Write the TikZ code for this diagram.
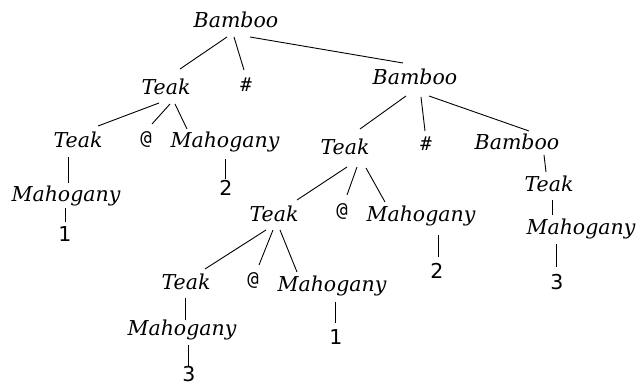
\documentclass[tikz,border=0pt]{standalone}
\usepackage{fontspec}
\newfontfamily\dvsans{DejaVu Sans}
\newfontfamily\dvmono{DejaVu Sans Mono}
\newfontfamily\dvserif{DejaVu Serif}
\begin{document}
\begin{tikzpicture}[x=1pt,y=-1pt,
  word/.style={font=\dvserif\fontsize{20.5}{25}\selectfont\itshape, inner sep=0pt, anchor=base},
  numb/.style={font=\dvsans\fontsize{20.5}{24}\selectfont, inner sep=0pt, anchor=base},
  symb/.style={font=\dvmono\fontsize{19}{23}\selectfont, inner sep=0pt, anchor=base},
  conn/.style={line width=0.9pt, black}]
\useasboundingbox (0,0) rectangle (638,385);
% nodes (x = centre, y = baseline)
\node[word] (R)  at (236,28)  {Bamboo};
\node[word] (T1) at (166,95)  {Teak};
\node[symb] (H1) at (246,92)  {\#};
\node[word] (B2) at (415,85)  {Bamboo};
\node[word] (T2) at (78,148)  {Teak};
\node[symb] (A1) at (146,145) {@};
\node[word] (M1) at (225,148) {Mahogany};
\node[word] (M2) at (66,202)  {Mahogany};
\node[numb] (N1) at (65,242)  {1};
\node[numb] (N2) at (226,196) {2};
\node[word] (T3) at (345,155) {Teak};
\node[symb] (H2) at (426,151) {\#};
\node[word] (B3) at (517,150) {Bamboo};
\node[word] (T4) at (549,192) {Teak};
\node[word] (M3) at (581,235) {Mahogany};
\node[numb] (N3) at (557,290) {3};
\node[word] (T5) at (274,222) {Teak};
\node[symb] (A2) at (342,217) {@};
\node[word] (M4) at (421,222) {Mahogany};
\node[numb] (N4) at (437,278) {2};
\node[word] (T6) at (186,290) {Teak};
\node[symb] (A3) at (253,285) {@};
\node[word] (M5) at (332,291) {Mahogany};
\node[numb] (N5) at (336,344) {1};
\node[word] (M6) at (182,335) {Mahogany};
\node[numb] (N6) at (189,381) {3};
% connectors
\draw[conn] ([shift={(-9,9)}]R.base)  -- ([shift={(14,-26)}]T1.base);
\draw[conn] ([shift={(-2,9)}]R.base)  -- ([shift={(-2,-22)}]H1.base);
\draw[conn] ([shift={(14,9)}]R.base)  -- ([shift={(-12,-22)}]B2.base);
\draw[conn] ([shift={(-7,8)}]T1.base) -- ([shift={(20,-22)}]T2.base);
\draw[conn] ([shift={(4,9)}]T1.base)  -- ([shift={(6,-21)}]A1.base);
\draw[conn] ([shift={(9,9)}]T1.base)  -- ([shift={(-38,-19)}]M1.base);
\draw[conn] ([shift={(-10,9)}]T2.base) -- ([shift={(2,-19)}]M2.base);
\draw[conn] ([shift={(-1,6)}]M2.base) -- ([shift={(0,-20)}]N1.base);
\draw[conn] ([shift={(0,11)}]M1.base) -- ([shift={(-1,-17)}]N2.base);
\draw[conn] ([shift={(-9,11)}]B2.base) -- ([shift={(15,-26)}]T3.base);
\draw[conn] ([shift={(6,12)}]B2.base) -- ([shift={(-1,-20)}]H2.base);
\draw[conn] ([shift={(14,11)}]B2.base) -- ([shift={(12,-19)}]B3.base);
\draw[conn] ([shift={(27,5)}]B3.base) -- ([shift={(-3,-20)}]T4.base);
\draw[conn] ([shift={(3,8)}]T4.base)  -- ([shift={(-29,-20)}]M3.base);
\draw[conn] ([shift={(-25,9)}]M3.base) -- ([shift={(-1,-23)}]N3.base);
\draw[conn] ([shift={(2,12)}]T3.base) -- ([shift={(23,-22)}]T5.base);
\draw[conn] ([shift={(12,12)}]T3.base) -- ([shift={(5,-22)}]A2.base);
\draw[conn] ([shift={(21,13)}]T3.base) -- ([shift={(-36,-20)}]M4.base);
\draw[conn] ([shift={(17,13)}]M4.base) -- ([shift={(1,-21)}]N4.base);
\draw[conn] ([shift={(-8,8)}]T5.base) -- ([shift={(19,-21)}]T6.base);
\draw[conn] ([shift={(-1,8)}]T5.base) -- ([shift={(6,-20)}]A3.base);
\draw[conn] ([shift={(6,8)}]T5.base)  -- ([shift={(-35,-19)}]M5.base);
\draw[conn] ([shift={(3,11)}]M5.base) -- ([shift={(-1,-21)}]N5.base);
\draw[conn] ([shift={(-1,8)}]T6.base) -- ([shift={(3,-15)}]M6.base);
\draw[conn] ([shift={(6,10)}]M6.base) -- ([shift={(-1,-15)}]N6.base);
\end{tikzpicture}
\end{document}
